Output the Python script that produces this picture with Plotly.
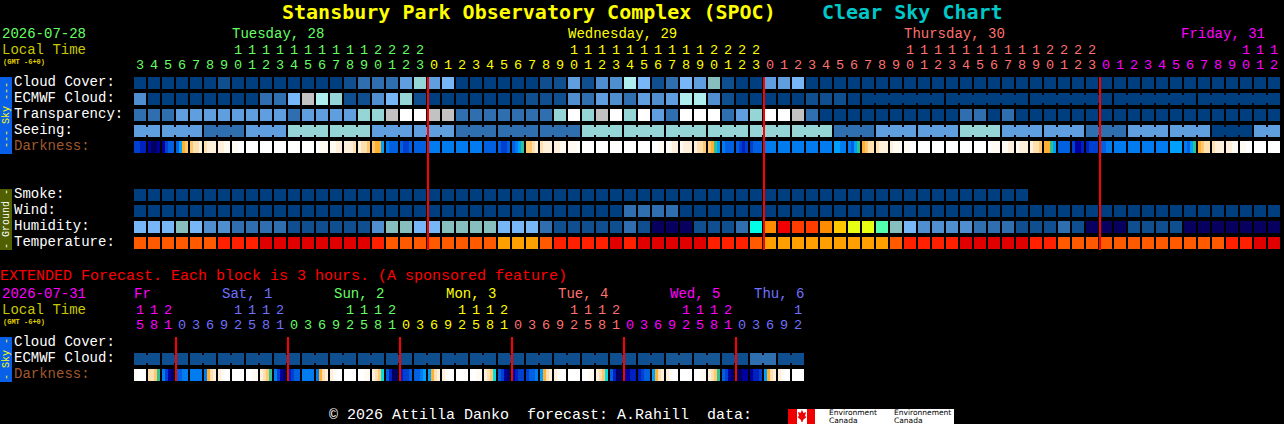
import plotly.graph_objects as go

# === Canvas ===
W = 1284
H = 424
FONT = "Liberation Mono"
TITLE_FONT = "DejaVu Sans Mono"

# === Colour levels used by the block rows ===
block_colors = [
    "#003f7f", "#0f4f8f", "#2f6faf", "#4f8fcf", "#5f9fdf", "#77b7f7", "#87bfbf", "#95d5d5",
    "#aeeeee", "#c2c2c2", "#ffffff", "#08005e", "#00ffe6", "#ff8c00", "#f00000", "#ff3c00",
    "#ffc800", "#e8ff14", "#55ffb0", "#e00000", "#ff2000", "#ff5a00", "#ffa000", "#175796",
]
darkness_colors = [
    "#000060", "#0000a0", "#0020c0", "#0040d0", "#0060e0", "#007cf0", "#00a0ff", "#30c090",
    "#ffb030", "#ffc870", "#ffe0b0", "#fff0dc", "#fffaf2", "#ffffff", "#00e0e0",
]

# === Hourly forecast, Tue 03h to Fri 12h ===
hours_main = [
    3, 4, 5, 6, 7, 8, 9, 10, 11, 12, 13, 14, 15, 16, 17, 18, 19, 20, 21, 22, 23,
    0, 1, 2, 3, 4, 5, 6, 7, 8, 9, 10, 11, 12, 13, 14, 15, 16, 17, 18, 19, 20, 21, 22, 23,
    0, 1, 2, 3, 4, 5, 6, 7, 8, 9, 10, 11, 12, 13, 14, 15, 16, 17, 18, 19, 20, 21, 22, 23,
    0, 1, 2, 3, 4, 5, 6, 7, 8, 9, 10, 11, 12,
]
cloud_cover = [
    0, 0, 0, 0, 0, 0, 1, 0, 0, 0, 0, 0, 0, 0, 0, 1, 2, 2, 2, 4, 7,
    4, 5, 0, 0, 0, 0, 0, 0, 1, 1, 4, 1, 3, 3, 8, 5, 1, 2, 5, 4, 6, 1, 0, 0,
    4, 4, 5, 0, 0, 0, 0, 0, 0, 0, 0, 0, 0, 0, 0, 0, 0, 0, 0, 0, 0, 0, 0, 0,
    0, 0, 0, 0, 0, 0, 0, 0, 0, 0, 0, 0, 0,
]
ecmwf_cloud = [
    3, 0, 0, 0, 0, 0, 0, 0, 0, 2, 2, 5, 9, 8, 7, 1, 1, 3, 5, 7, 1,
    0, 0, 0, 0, 0, 0, 0, 1, 1, 1, 3, 2, 4, 3, 2, 4, 3, 4, 8, 8, 3, 1, 0, 0,
    0, 0, 0, 1, 1, 1, 0, 0, 0, 0, 0, 0, 0, 0, 0, 0, 0, 0, 0, 0, 0, 0, 0, 0,
    0, 0, 0, 0, 0, 0, 0, 0, 0, 0, 0, 0, 0,
]
ecmwf_group_starts = [52, 58, 64, 70, 76]
ecmwf_group_len = 6
transparency = [
    2, 2, 2, 4, 4, 4, 4, 4, 4, 4, 4, 2, 4, 4, 4, 4, 7, 7, 9, 10, 10,
    9, 9, 2, 2, 2, 2, 2, 2, 2, 7, 10, 7, 9, 10, 7, 10, 4, 2, 10, 10, 10, 2, 4, 7,
    10, 10, 9, 2, 0, 0, 0, 0, 0, 0, 0, 0, 0, 0, 2, 2, 0, 2, 0, 0, 0, 0, 0, 0,
    0, 0, 0, 0, 0, 0, 0, 0, 0, 0, 0, 0, 0,
]
seeing_blocks = [4, 4, 2, 4, 7, 7, 4, 4, 2, 2, 2, 7, 7, 7, 7, 7, 7, 2, 4, 4, 7, 4, 4, 2, 4, 4, 0, 4]
seeing_lengths = [2, 3, 3, 3, 3, 3, 3, 3, 3, 3, 3, 3, 3, 3, 3, 3, 3, 3, 3, 3, 3, 3, 3, 3, 3, 3, 3, 2]
darkness_main = [
    (3, 3, 2, 2), (1, 0, 0, 1), (1, 3, 4, 4), (4, 6, 8, 9), (9, 10, 10, 11), (10, 11, 11, 11), (11, 11, 12, 12),
    (12, 12, 13, 13), (13, 13, 13, 13), (13, 13, 13, 13), (13, 13, 13, 13), (13, 13, 13, 13), (13, 13, 13, 13),
    (13, 12, 12, 12), (12, 12, 11, 11), (11, 11, 11, 10), (11, 10, 10, 9), (9, 8, 8, 6), (5, 4, 4, 4),
    (4, 3, 3, 4), (4, 4, 4, 4),
    (5, 5, 5, 5), (5, 5, 5, 5), (5, 5, 5, 5), (5, 5, 5, 5), (4, 4, 4, 4), (4, 3, 3, 4), (4, 5, 6, 7),
    (9, 9, 10, 11), (10, 11, 11, 11), (11, 11, 12, 12), (12, 12, 12, 13), (13, 13, 13, 13), (13, 13, 13, 13),
    (13, 13, 13, 13), (13, 13, 13, 13), (13, 13, 13, 13), (13, 13, 12, 12), (12, 12, 11, 11), (12, 11, 11, 11),
    (11, 10, 10, 9), (9, 8, 7, 6), (5, 4, 4, 4), (4, 3, 2, 3), (3, 4, 4, 4),
    (5, 5, 5, 5), (5, 5, 5, 5), (5, 5, 5, 5), (5, 5, 5, 5), (5, 5, 5, 5), (6, 6, 5, 5), (5, 4, 6, 7),
    (8, 9, 10, 10), (10, 11, 11, 11), (11, 12, 12, 12), (12, 12, 13, 13), (13, 13, 13, 13), (13, 13, 13, 13),
    (13, 13, 13, 13), (13, 13, 13, 13), (13, 13, 13, 13), (13, 12, 12, 12), (12, 12, 11, 11), (12, 11, 11, 11),
    (11, 10, 10, 9), (8, 8, 7, 6), (4, 4, 4, 4), (3, 1, 1, 2), (2, 3, 3, 3),
    (4, 4, 5, 5), (5, 5, 5, 5), (5, 5, 5, 5), (5, 5, 5, 5), (5, 5, 5, 5), (6, 6, 6, 6), (5, 4, 6, 7),
    (8, 9, 10, 10), (10, 11, 11, 11), (11, 11, 12, 12), (12, 12, 13, 13), (13, 13, 13, 13), (13, 13, 13, 13),
]
smoke = [0] * 64 + [None] * 18
wind = [
    0, 0, 0, 0, 0, 0, 0, 0, 0, 0, 0, 0, 0, 0, 0, 0, 0, 0, 0, 0, 0,
    0, 0, 0, 0, 0, 0, 0, 0, 0, 0, 0, 0, 0, 0, 2, 2, 2, 2, 0, 0, 0, 0, 0, 0,
    0, 0, 0, 0, 0, 0, 0, 0, 0, 0, 0, 0, 0, 0, 0, 0, 0, 0, 0, 0, 0, 0, 0, 0,
    0, 0, 0, 0, 0, 0, 0, 0, 0, 0, 0, 0, 0,
]
humidity = [
    5, 5, 5, 6, 5, 3, 3, 2, 2, 2, 2, 1, 1, 1, 1, 1, 1, 3, 6, 6, 5,
    5, 6, 6, 6, 6, 5, 5, 5, 2, 1, 1, 1, 1, 1, 2, 1, 11, 11, 11, 1, 1, 1, 2, 12,
    13, 14, 15, 15, 13, 16, 17, 17, 18, 6, 5, 3, 3, 3, 3, 2, 2, 2, 1, 1, 1, 2, 1, 11,
    11, 11, 1, 1, 1, 1, 11, 11, 11, 11, 11, 11, 11,
]
temperature = [
    21, 21, 21, 21, 21, 21, 20, 20, 20, 19, 19, 19, 19, 19, 19, 19, 19, 20, 21, 21, 21,
    21, 21, 21, 21, 21, 22, 22, 22, 21, 20, 20, 20, 20, 19, 20, 19, 19, 19, 19, 19, 20, 20, 20, 21,
    22, 22, 22, 22, 22, 22, 22, 22, 22, 21, 20, 20, 20, 20, 19, 19, 19, 19, 19, 20, 20, 21, 21, 21,
    21, 21, 21, 21, 21, 21, 21, 21, 21, 20, 20, 19, 19,
]

main_day_labels = ["Tuesday, 28", "Wednesday, 29", "Thursday, 30", "Friday, 31"]
main_day_starts = [0, 21, 45, 69]
main_day_label_cols = [7, 31, 55, 74.75]
main_day_colors = ["#66ff66", "#ffff00", "#ff7070", "#ff00ff"]

# === Extended forecast, 3 hour blocks ===
hours_ext = [
    15, 18, 21,
    0, 3, 6, 9, 12, 15, 18, 21,
    0, 3, 6, 9, 12, 15, 18, 21,
    0, 3, 6, 9, 12, 15, 18, 21,
    0, 3, 6, 9, 12, 15, 18, 21,
    0, 3, 6, 9, 12, 15, 18, 21,
    0, 3, 6, 9, 12,
]
ecmwf_ext_blocks = [1, 1, 1, 1, 1, 1, 1, 1, 1, 1, 1, 1, 1, 1, 1, 1, 1, 1, 1, 23, 23, 1, 2, 1]
darkness_ext = [
    (12, 13, 13, 13), (10, 10, 9, 7), (5, 3, 1, 0), (4, 4, 5, 5), (5, 5, 5, 5), (5, 8, 10, 11), (11, 12, 13, 13),
    (13, 13, 13, 13), (13, 13, 12, 12), (11, 10, 9, 7), (5, 3, 1, 0), (2, 3, 4, 4), (5, 5, 5, 5), (5, 8, 10, 11),
    (11, 12, 13, 13), (13, 13, 13, 13), (13, 13, 12, 12), (11, 10, 9, 14), (4, 2, 0, 0), (2, 3, 3, 4), (4, 4, 5, 6),
    (6, 8, 10, 11), (11, 12, 13, 13), (13, 13, 13, 13), (13, 13, 12, 12), (11, 10, 9, 14), (4, 3, 1, 0), (1, 2, 3, 3),
    (3, 4, 4, 5), (6, 8, 10, 11), (11, 12, 13, 13), (13, 13, 13, 13), (13, 13, 12, 12), (11, 10, 9, 14), (4, 2, 0, 0),
    (1, 1, 2, 2), (2, 3, 4, 4), (6, 8, 10, 11), (11, 12, 13, 13), (13, 13, 13, 13), (13, 13, 12, 12), (11, 10, 9, 7),
    (4, 3, 1, 0), (0, 0, 1, 1), (1, 2, 2, 3), (6, 8, 10, 11), (11, 12, 13, 13), (13, 13, 13, 13),
]
ext_day_labels = ["Fr", "Sat, 1", "Sun, 2", "Mon, 3", "Tue, 4", "Wed, 5", "Thu, 6"]
ext_day_starts = [0, 3, 11, 19, 27, 35, 43]
ext_day_label_cols = [0, 6.29, 14.29, 22.29, 30.29, 38.29, 44.29]
ext_day_colors = ["#ff00ff", "#7070ff", "#66ff66", "#ffff00", "#ff7070", "#ff00ff", "#7070ff"]


# === Helpers ===
def steps(colors):
    scale = []
    for i, c in enumerate(colors):
        scale.append([i / len(colors), c])
        scale.append([(i + 1) / len(colors), c])
    return scale


def expand(blocks, lengths):
    cells = []
    for value, n in zip(blocks, lengths):
        cells += [value] * n
    return cells


def add_grid(rows, xname, yname):
    fig.add_trace(go.Heatmap(z=rows, colorscale=steps(block_colors), zmin=-0.5, zmax=len(block_colors) - 0.5,
                             xgap=2, ygap=4, showscale=False, hoverinfo="skip", xaxis=xname, yaxis=yname))


def add_darkness(cells, row, xname, yname):
    # each block is a little gradient, so it is drawn as 4 narrow bricks plus an empty gap brick
    edges = []
    values = []
    for i, cell in enumerate(cells):
        for j, v in enumerate(cell):
            edges.append(i - 6 / 14 + j * 3 / 14)
            values.append(v)
        edges.append(i + 6 / 14)
        values.append(None)
    values.pop()
    fig.add_trace(go.Heatmap(z=[values], x=edges, y=[row - 0.5, row + 0.5], colorscale=steps(darkness_colors),
                             zmin=-0.5, zmax=len(darkness_colors) - 0.5, ygap=4, showscale=False,
                             hoverinfo="skip", xaxis=xname, yaxis=yname))


def add_joins(starts, lengths, values, row, xname, yname):
    # the narrow bridge between blocks that belong to one longer forecast period
    for s, n, v in zip(starts, lengths, values):
        fig.add_trace(go.Scatter(x=[s, s + n - 1], y=[row, row], mode="lines", hoverinfo="skip",
                                 line=dict(color=block_colors[v], width=8), xaxis=xname, yaxis=yname))


def label(text, px, py, color, size=14, anchor="left", angle=0, family=FONT):
    fig.add_annotation(text=text, x=px / W, y=1 - py / H, xref="paper", yref="paper", showarrow=False,
                       xanchor=anchor, yanchor="middle", textangle=angle, borderpad=0, borderwidth=0,
                       font=dict(family=family, size=size, color=color))


def box(x0, y0, x1, y1, color):
    fig.add_shape(type="rect", xref="paper", yref="paper", x0=x0 / W, x1=x1 / W, y0=1 - y0 / H, y1=1 - y1 / H,
                  fillcolor=color, line_width=0, layer="below")


def hour_labels(hours, day_starts, colors, xname, y_tens, y_ones):
    for col, h in enumerate(hours):
        day = sum(1 for s in day_starts if s <= col) - 1
        fig.add_annotation(text=str(h % 10), x=col, xref=xname, y=1 - y_ones / H, yref="paper", showarrow=False,
                           xanchor="center", yanchor="middle", borderpad=0,
                           font=dict(family=FONT, size=13.5, color=colors[day]))
        if h >= 10:
            fig.add_annotation(text=str(h // 10), x=col, xref=xname, y=1 - y_tens / H, yref="paper", showarrow=False,
                               xanchor="center", yanchor="middle", borderpad=0,
                               font=dict(family=FONT, size=13.5, color=colors[day]))


def day_labels(names, cols, colors, py):
    for name, col, c in zip(names, cols, colors):
        label(name, 134 + col * 14, py, c)


# === Figure ===
fig = go.Figure()

blank = [None] * len(hours_main)
seeing = expand(seeing_blocks, seeing_lengths)
main_rows = [cloud_cover, ecmwf_cloud, transparency, seeing, blank, blank, blank, smoke, wind, humidity, temperature]
add_grid(main_rows, "x", "y")
add_darkness(darkness_main, 4, "x", "y")

seeing_starts = [sum(seeing_lengths[:i]) for i in range(len(seeing_lengths))]
add_joins(seeing_starts, seeing_lengths, seeing_blocks, 3, "x", "y")
add_joins(ecmwf_group_starts, [ecmwf_group_len] * len(ecmwf_group_starts),
          [ecmwf_cloud[s] for s in ecmwf_group_starts], 1, "x", "y")

ext_ecmwf = expand(ecmwf_ext_blocks, [2] * len(ecmwf_ext_blocks))
add_grid([[None] * len(hours_ext), ext_ecmwf, [None] * len(hours_ext)], "x2", "y2")
add_darkness(darkness_ext, 2, "x2", "y2")
add_joins([i * 2 for i in range(len(ecmwf_ext_blocks))], [2] * len(ecmwf_ext_blocks), ecmwf_ext_blocks, 1, "x2", "y2")

# red lines at midnight
red_x = []
red_y = []
for s in main_day_starts[1:]:
    red_x += [s - 0.5 + 1 / 14, s - 0.5 + 1 / 14, None]
    red_y += [-0.375, 10.44, None]
fig.add_trace(go.Scatter(x=red_x, y=red_y, mode="lines", line=dict(color="#ff0000", width=2), hoverinfo="skip",
                         xaxis="x", yaxis="y"))
red_x = []
red_y = []
for s in ext_day_starts[1:]:
    red_x += [s - 0.5 + 1 / 14, s - 0.5 + 1 / 14, None]
    red_y += [-0.375, 2.375, None]
fig.add_trace(go.Scatter(x=red_x, y=red_y, mode="lines", line=dict(color="#ff0000", width=2), hoverinfo="skip",
                         xaxis="x2", yaxis="y2"))

# === Title and text ===
label("<b>Stansbury Park Observatory Complex (SPOC)</b>", 282, 12, "#ffff00", size=20, family=TITLE_FONT)
label("<b>Clear Sky Chart</b>", 822, 12, "#00c8c8", size=20, family=TITLE_FONT)

label("2026-07-28", 2, 34, "#66ff66")
label("Local Time", 2, 50, "#c8c800")
label("<b>(GMT -6+0)</b>", 3, 62, "#e0d000", size=7)
day_labels(main_day_labels, main_day_label_cols, main_day_colors, 34)
hour_labels(hours_main, main_day_starts, main_day_colors, "x", 50, 65.3)

for name, py, c in [("Cloud Cover:", 82, "white"), ("ECMWF Cloud:", 98, "white"), ("Transparency:", 114, "white"),
                    ("Seeing:", 130, "white"), ("Darkness:", 146, "#a05a2c"), ("Smoke:", 194, "white"),
                    ("Wind:", 210, "white"), ("Humidity:", 226, "white"), ("Temperature:", 242, "white")]:
    label(name, 14, py, c)

box(0, 77, 12, 154, "#0860e8")
label("--- Sky ---", 6, 115, "#ffff00", size=10, anchor="center", angle=-90)
box(0, 189, 12, 250, "#506000")
label("- Ground -", 6, 219, "#ffffff", size=10, anchor="center", angle=-90)

label("EXTENDED Forecast. Each block is 3 hours. (A sponsored feature)", 0, 276, "#ff0000", size=15)
label("2026-07-31", 2, 294, "#ff00ff")
label("Local Time", 2, 310, "#c8c800")
label("<b>(GMT -6+0)</b>", 3, 322, "#e0d000", size=7)
day_labels(ext_day_labels, ext_day_label_cols, ext_day_colors, 294)
hour_labels(hours_ext, ext_day_starts, ext_day_colors, "x2", 310, 325.3)

for name, py, c in [("Cloud Cover:", 342, "white"), ("ECMWF Cloud:", 358, "white"), ("Darkness:", 374, "#a05a2c")]:
    label(name, 14, py, c)
box(0, 337, 12, 382, "#0860e8")
label("- Sky -", 6, 359, "#ffff00", size=10, anchor="center", angle=-90)

# === Footer ===
label("© 2026 Attilla Danko  forecast: A.Rahill  data:", 329, 415, "#ffffff", size=15)
box(788, 409, 954, 424, "#ffffff")
box(788, 409, 797, 424, "#ee0000")
box(807, 409, 815, 424, "#ee0000")
leaf = [(802, 410), (803.5, 413), (806, 412), (805, 416), (806.5, 417), (803, 420), (802.5, 422),
        (801.5, 422), (801, 420), (797.5, 417), (799, 416), (798, 412), (800.5, 413)]
fig.add_shape(type="path", xref="paper", yref="paper", fillcolor="#ee0000", line_width=0,
              path="M " + " L ".join(f"{x / W},{1 - y / H}" for x, y in leaf) + " Z")
for name, px in [("Environment", 829), ("Environnement", 894)]:
    label(name, px, 412, "#000000", size=7.5, family="DejaVu Sans")
    label("Canada", px, 420, "#000000", size=7.5, family="DejaVu Sans")

# === Layout ===
hidden = dict(visible=False, showgrid=False, zeroline=False)
fig.update_layout(
    width=W, height=H, autosize=False, margin=dict(l=0, r=0, t=0, b=0),
    paper_bgcolor="#000000", plot_bgcolor="#000000", showlegend=False,
    xaxis=dict(domain=[133 / W, 1281 / W], range=[-0.5, 81.5], anchor="y", **hidden),
    yaxis=dict(domain=[1 - 251 / H, 1 - 75 / H], range=[10.5, -0.5], anchor="x", **hidden),
    xaxis2=dict(domain=[133 / W, 805 / W], range=[-0.5, 47.5], anchor="y2", **hidden),
    yaxis2=dict(domain=[1 - 383 / H, 1 - 335 / H], range=[2.5, -0.5], anchor="x2", **hidden),
)

fig.write_html("out.html", config={"displayModeBar": False},
               post_script="document.body.style.margin='0';document.body.style.overflow='hidden';")
